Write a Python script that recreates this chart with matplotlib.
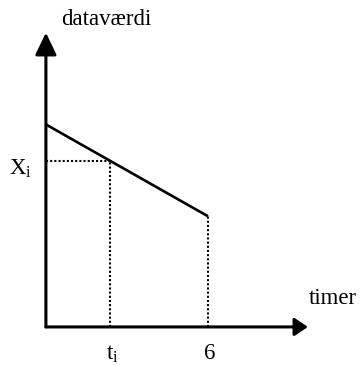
import matplotlib
matplotlib.use("Agg")
import matplotlib.pyplot as plt
import numpy as np

# data
times = [0, 6]
values = [7.5, 4.1]
t_i = 2.37
tick_labels = ["t$_i$", "6"]
axis_labels = ["timer", "dataværdi"]
x_label = "X$_i$"

x_i = np.interp(t_i, times, values)

plt.rcParams['font.family'] = ['Liberation Serif', 'DejaVu Serif']
plt.rcParams['mathtext.fontset'] = 'custom'
plt.rcParams['mathtext.rm'] = 'Liberation Serif'
plt.rcParams['mathtext.it'] = 'Liberation Serif'

fig = plt.figure(figsize=(3.6, 3.65), dpi=100)
ax = fig.add_axes([0, 0, 1, 1])
ax.set_xlim(-1.70, 11.63)
ax.set_ylim(-1.41, 12.11)
ax.axis('off')

# axes with arrows
ax.annotate('', xy=(9.7, 0), xytext=(0, 0),
            arrowprops=dict(arrowstyle='-|>,head_length=0.8,head_width=0.54', lw=2.2, color='black',
                            shrinkA=0, shrinkB=0))
ax.annotate('', xy=(0, 10.9), xytext=(0, 0),
            arrowprops=dict(arrowstyle='-|>,head_length=1.35,head_width=0.65', lw=2.2, color='black',
                            shrinkA=0, shrinkB=0))

# main line
ax.plot(times, values, color='black', lw=1.9, solid_capstyle='butt')

# dotted guides
ax.plot([0, t_i], [x_i, x_i], color='black', lw=1.5, ls=(0, (1, 1)))
ax.plot([t_i, t_i], [0, x_i], color='black', lw=1.5, ls=(0, (1, 1)))
ax.plot([times[-1], times[-1]], [0, values[-1]], color='black', lw=1.5, ls=(0, (1, 1)))

# labels
fs = 16.5
ax.text(t_i + 0.1, -1.0, tick_labels[0], fontsize=fs, ha='center', va='center')
ax.text(times[-1] + 0.05, -1.0, tick_labels[1], fontsize=fs, ha='center', va='center')
ax.text(-0.93, x_i - 0.3, x_label, fontsize=fs, ha='center', va='center')
ax.text(9.75, 1.07, axis_labels[0], fontsize=fs, ha='left', va='center')
ax.text(2.25, 11.4, axis_labels[1], fontsize=fs, ha='center', va='center')

fig.savefig('out.png', dpi=100)
